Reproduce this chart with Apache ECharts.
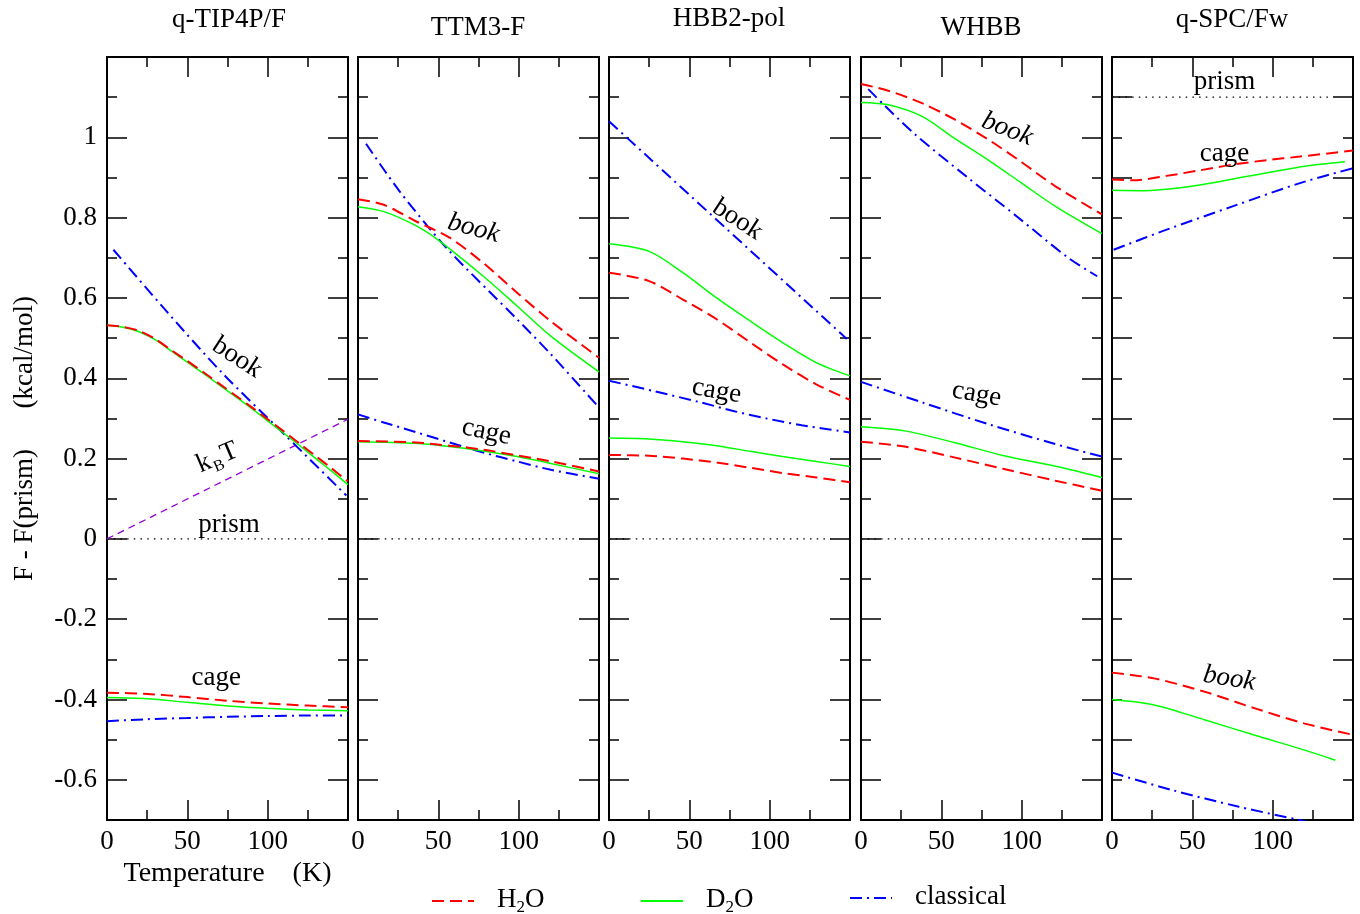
<!DOCTYPE html>
<html><head><meta charset="utf-8">
<script src="https://cdn.jsdelivr.net/npm/echarts@6/dist/echarts.min.js"></script>
<style>html,body{margin:0;padding:0;background:#fff}#c{width:1360px;height:914px}</style>
</head><body><div id="c"></div>
<script>
// ---------- DATA ----------
const panelNames = ['q-TIP4P/F', 'TTM3-F', 'HBB2-pol', 'WHBB', 'q-SPC/Fw'];
const xTickLabels = [0, 50, 100];
const yLabelValues = [-0.6, -0.4, -0.2, 0, 0.2, 0.4, 0.6, 0.8, 1.0];
const yEvenTicks = [-0.6, -0.4, -0.2, 0, 0.2, 0.4, 0.6, 0.8, 1.0, 1.2];
const yOddTicks = [-0.7, -0.5, -0.3, -0.1, 0.1, 0.3, 0.5, 0.7, 0.9, 1.1];

// q-TIP4P/F
const tip4pBookH2O = [[0,0.532],[10,0.528],[20,0.518],[30,0.498],[40,0.470],[50,0.443],[60,0.415],[70,0.386],[80,0.357],[90,0.328],[100,0.298],[110,0.268],[120,0.237],[130,0.206],[140,0.175],[150,0.143]];
const tip4pBookD2O = [[0,0.532],[10,0.527],[20,0.516],[30,0.496],[40,0.468],[50,0.440],[60,0.412],[70,0.383],[80,0.354],[90,0.325],[100,0.294],[110,0.263],[120,0.232],[130,0.200],[140,0.168],[150,0.135]];
const tip4pBookCl  = [[4,0.72],[37,0.567],[72,0.412],[110,0.262],[149,0.108]];
const tip4pCageH2O = [[0,-0.383],[25,-0.386],[50,-0.394],[75,-0.403],[100,-0.410],[125,-0.415],[150,-0.419]];
const tip4pCageD2O = [[0,-0.395],[25,-0.398],[50,-0.407],[75,-0.416],[100,-0.422],[125,-0.426],[150,-0.428]];
const tip4pCageCl  = [[0,-0.454],[25,-0.449],[50,-0.446],[75,-0.443],[100,-0.441],[125,-0.440],[150,-0.440]];
const tip4pPrism   = [[0,0],[140,0]];
const kBT          = [[0,0],[150,0.298]];

// TTM3-F
const ttmBookH2O = [[0,0.846],[16,0.832],[36,0.791],[57,0.750],[78,0.687],[99,0.613],[120,0.542],[150,0.451]];
const ttmBookD2O = [[0,0.827],[16,0.815],[36,0.780],[51,0.741],[78,0.654],[99,0.580],[120,0.505],[150,0.416]];
const ttmBookCl  = [[5,0.984],[26,0.865],[55,0.725],[99,0.547],[120,0.460],[150,0.327]];
const ttmCageH2O = [[0,0.244],[36,0.240],[57,0.232],[78,0.222],[99,0.208],[120,0.193],[150,0.168]];
const ttmCageD2O = [[0,0.242],[36,0.238],[57,0.230],[78,0.219],[99,0.205],[120,0.188],[150,0.162]];
const ttmCageCl  = [[0,0.310],[16,0.290],[36,0.266],[57,0.240],[78,0.215],[99,0.193],[120,0.172],[150,0.150]];
const ttmPrism   = [[0,0],[138,0]];

// HBB2-pol
const hbbBookH2O = [[0,0.663],[25,0.642],[46,0.596],[67,0.547],[88,0.489],[108,0.435],[129,0.385],[150,0.346]];
const hbbBookD2O = [[0,0.735],[25,0.716],[46,0.663],[67,0.600],[88,0.542],[108,0.489],[129,0.439],[150,0.406]];
const hbbBookCl  = [[0,1.040],[148,0.498]];
const hbbCageH2O = [[0,0.209],[25,0.207],[46,0.200],[67,0.190],[88,0.177],[108,0.164],[129,0.153],[150,0.141]];
const hbbCageD2O = [[0,0.251],[25,0.249],[46,0.242],[67,0.232],[88,0.218],[108,0.205],[129,0.193],[150,0.180]];
const hbbCageCl  = [[0,0.394],[28,0.368],[57,0.340],[78,0.318],[98,0.300],[120,0.283],[150,0.265]];
const hbbPrism   = [[0,0],[138,0]];

// WHBB
const whbbBookH2O = [[0,1.133],[17,1.116],[38,1.085],[58,1.045],[79,0.995],[100,0.938],[121,0.878],[150,0.808]];
const whbbBookD2O = [[0,1.087],[17,1.081],[38,1.052],[58,0.998],[79,0.944],[100,0.886],[121,0.828],[150,0.760]];
const whbbBookCl  = [[4.5,1.120],[15,1.078],[34,1.006],[66,0.901],[97,0.803],[129,0.700],[147,0.654]];
const whbbCageH2O = [[0,0.242],[27,0.230],[58,0.203],[89,0.174],[121,0.145],[150,0.120]];
const whbbCageD2O = [[0,0.279],[27,0.269],[58,0.240],[89,0.207],[121,0.181],[150,0.153]];
const whbbCageCl  = [[0,0.391],[38,0.340],[79,0.286],[121,0.236],[150,0.205]];
const whbbPrism   = [[0,0],[138,0]];

// q-SPC/Fw
const spcCageH2O = [[0,0.895],[13,0.893],[34,0.904],[55,0.918],[75,0.932],[96,0.943],[117,0.952],[150,0.967]];
const spcCageD2O = [[0,0.868],[20,0.867],[40,0.873],[60,0.885],[80,0.900],[100,0.914],[120,0.928],[145,0.939]];
const spcCageCl  = [[1,0.720],[34,0.770],[75,0.828],[117,0.886],[150,0.923]];
const spcBookH2O = [[0,-0.333],[27,-0.348],[58,-0.381],[89,-0.422],[120,-0.460],[149,-0.487]];
const spcBookD2O = [[0,-0.400],[27,-0.414],[58,-0.451],[89,-0.489],[120,-0.526],[139,-0.551]];
const spcBookCl  = [[0,-0.582],[37,-0.625],[79,-0.667],[120,-0.703]];
const spcPrism   = [[0,1.1],[136,1.1]];

// annotation texts with their data anchors
const notes = [
  [{t:'book', at:[81,0.451], r:-33}, {t:'kBT', at:[69,0.199], r:23}, {t:'prism', at:[76,0.036], r:0}, {t:'cage', at:[68,-0.345], r:0}],
  [{t:'book', at:[72,0.773], r:-15, it:true}, {t:'cage', at:[80,0.266], r:-12}],
  [{t:'book', at:[80,0.795], r:-33}, {t:'cage', at:[67,0.368], r:-10}],
  [{t:'book', at:[91,1.02], r:-21, it:true}, {t:'cage', at:[72,0.36], r:-10}],
  [{t:'prism', at:[70,1.138], r:0}, {t:'cage', at:[70,0.959], r:0}, {t:'book', at:[73,-0.348], r:-9, it:true}]
];

const panelSeries = [
  {H2O:[tip4pBookH2O,tip4pCageH2O], D2O:[tip4pBookD2O,tip4pCageD2O], classical:[tip4pBookCl,tip4pCageCl], prism:tip4pPrism},
  {H2O:[ttmBookH2O,ttmCageH2O], D2O:[ttmBookD2O,ttmCageD2O], classical:[ttmBookCl,ttmCageCl], prism:ttmPrism},
  {H2O:[hbbBookH2O,hbbCageH2O], D2O:[hbbBookD2O,hbbCageD2O], classical:[hbbBookCl,hbbCageCl], prism:hbbPrism},
  {H2O:[whbbBookH2O,whbbCageH2O], D2O:[whbbBookD2O,whbbCageD2O], classical:[whbbBookCl,whbbCageCl], prism:whbbPrism},
  {H2O:[spcCageH2O,spcBookH2O], D2O:[spcCageD2O,spcBookD2O], classical:[spcCageCl,spcBookCl], prism:spcPrism}
];

// ---------- LAYOUT / STYLE ----------
const FONT = '"Liberation Serif", "Times New Roman", serif';
const FS = 27;
const gridLeft = [107, 358, 609, 861, 1112];
const gridTop = 57, gridW = 241, gridH = 763;
const titlePos = [[229,20],[478,28],[729,19],[981,28],[1232,20]];
const lineStyles = {
  H2O: {color:'#ff0000', type:[12,6], width:2},
  D2O: {color:'#00ff00', type:'solid', width:1.5},
  classical: {color:'#0000ff', type:[12,5,2,5], width:2}
};

const grids = [], xAxes = [], yAxes = [], series = [];

panelNames.forEach((nm, i) => {
  grids.push({left: gridLeft[i], top: gridTop, width: gridW, height: gridH, outerBoundsMode: 'none', containLabel: false});
  const xBase = {
    gridIndex: i, type: 'value', min: 0, max: 150, interval: 50,
    axisLine: {show: true, onZero: false, lineStyle: {color:'#000', width: 2}},
    axisTick: {show: true, inside: true, length: 20, lineStyle: {color:'#000', width: 1.5}},
    minorTick: {show: true, splitNumber: 2, length: 10, lineStyle: {color:'#000', width: 1.5}},
    splitLine: {show: false}, minorSplitLine: {show: false}
  };
  xAxes.push(Object.assign({}, xBase, {
    position: 'bottom',
    axisLabel: {show: true, margin: 8, customValues: xTickLabels, fontFamily: FONT, fontSize: FS, color: '#000',
      formatter: v => (v === 150 ? '' : String(v))},
    name: i === 0 ? 'Temperature    (K)' : '',
    nameLocation: 'middle', nameGap: 40,
    nameTextStyle: {fontFamily: FONT, fontSize: 28, color: '#000'}
  }));
  xAxes.push(Object.assign({}, xBase, {position: 'top', axisLabel: {show: false}}));

  const majors = i === 4 ? yOddTicks : yEvenTicks;
  const yBase = {gridIndex: i, type: 'value', min: -0.7, max: 1.2, interval: 0.1,
    splitLine: {show: false}};
  ['left', 'right'].forEach(pos => {
    yAxes.push(Object.assign({}, yBase, {
      position: pos,
      axisLine: {show: true, onZero: false, lineStyle: {color:'#000', width: 2}},
      axisTick: {show: true, inside: true, length: 10, lineStyle: {color:'#000', width: 1.5}},
      axisLabel: (i === 0 && pos === 'left') ? {
        show: true, margin: 10, customValues: yLabelValues, fontFamily: FONT, fontSize: FS, color: '#000',
        formatter: v => String(Math.round(v * 10) / 10)
      } : {show: false},
      name: (i === 0 && pos === 'left') ? 'F - F(prism)      (kcal/mol)' : '',
      nameLocation: 'middle', nameGap: 69,
      nameTextStyle: {fontFamily: FONT, fontSize: FS, color: '#000'}
    }));
    yAxes.push(Object.assign({}, yBase, {
      position: pos,
      axisLine: {show: false, onZero: false},
      axisTick: {show: true, inside: true, length: 20, customValues: majors, lineStyle: {color:'#000', width: 1.5}},
      axisLabel: {show: false}
    }));
  });

  const xi = 2 * i, yi = 4 * i;
  const ps = panelSeries[i];
  series.push({type:'line', name:'prism-line', xAxisIndex: xi, yAxisIndex: yi, data: ps.prism,
    symbol:'none', silent:true, lineStyle:{color:'#000', type:[1.5,5.2], width:1.3}, z: 1});
  if (i === 0) {
    series.push({type:'line', name:'kBT-line', xAxisIndex: xi, yAxisIndex: yi, data: kBT,
      symbol:'none', silent:true, lineStyle:{color:'#9400d3', type:[7,5], width:1.3}, z: 2});
  }
  ['classical', 'D2O', 'H2O'].forEach(key => {
    ps[key].forEach(arr => {
      series.push({type:'line', name: key, xAxisIndex: xi, yAxisIndex: yi, data: arr,
        symbol:'none', showSymbol:false, smooth: 0.3, silent:true,
        lineStyle: Object.assign({cap:'butt'}, lineStyles[key]),
        itemStyle: {color: lineStyles[key].color}, z: 3});
    });
  });
  notes[i].forEach((n, k) => {
    const isKBT = n.t === 'kBT';
    series.push({type:'scatter', name:'note' + i + '_' + k, xAxisIndex: xi, yAxisIndex: yi,
      data: [n.at], symbolSize: 1, itemStyle: {color: 'rgba(0,0,0,0)', opacity: 1}, silent: true, z: 5,
      label: {show: true, position: 'inside', rotate: n.r, color:'#000', opacity: 1,
        textBorderWidth: 0, textShadowBlur: 0,
        fontFamily: FONT, fontSize: FS, fontStyle: n.it ? 'italic' : 'normal',
        formatter: isKBT ? '{a|k}{b|B}{a|T}' : n.t,
        rich: isKBT ? {
          a: {fontFamily: FONT, fontSize: FS, lineHeight: 30, verticalAlign: 'top', color:'#000'},
          b: {fontFamily: FONT, fontSize: 16, lineHeight: 16, padding: [20,1,0,1], verticalAlign: 'bottom', color:'#000'}
        } : undefined}
    });
  });
});

const legendRich = {
  sp: {width: 18},
  n: {fontFamily: FONT, fontSize: FS, lineHeight: 30, verticalAlign: 'top', color:'#000'},
  s: {fontFamily: FONT, fontSize: 17, lineHeight: 16, padding: [20,0,0,0], verticalAlign: 'bottom', color:'#000'}
};
const legendFmt = name => name === 'H2O' ? '{sp|}{n|H}{s|2}{n|O}' : name === 'D2O' ? '{sp|}{n|D}{s|2}{n|O}' : '{sp|}{n|classical}';
const legendLeft = {H2O: 431, D2O: 640, classical: 849};
const legendTop = {H2O: 879, D2O: 879, classical: 883};
const legends = ['H2O', 'D2O', 'classical'].map(k => ({
  data: [k], left: legendLeft[k], top: legendTop[k], orient: 'horizontal', selectedMode: false,
  itemWidth: 42, itemHeight: 14, padding: 0,
  itemStyle: {opacity: 0, borderWidth: 0},
  formatter: legendFmt,
  textStyle: {fontFamily: FONT, fontSize: FS, color: '#000', rich: legendRich}
}));

const graphics = panelNames.map((nm, i) => ({
  type: 'text', x: titlePos[i][0], y: titlePos[i][1], silent: true,
  style: {text: nm, font: FS + 'px ' + FONT, fill: '#000', align: 'center', verticalAlign: 'middle'}
}));

const chart = echarts.init(document.getElementById('c'), null, {renderer: 'canvas'});
chart.setOption({
  animation: false,
  backgroundColor: '#fff',
  grid: grids, xAxis: xAxes, yAxis: yAxes, series: series,
  legend: legends,
  graphic: graphics,
  tooltip: {show: false}
});
</script>
</body></html>
